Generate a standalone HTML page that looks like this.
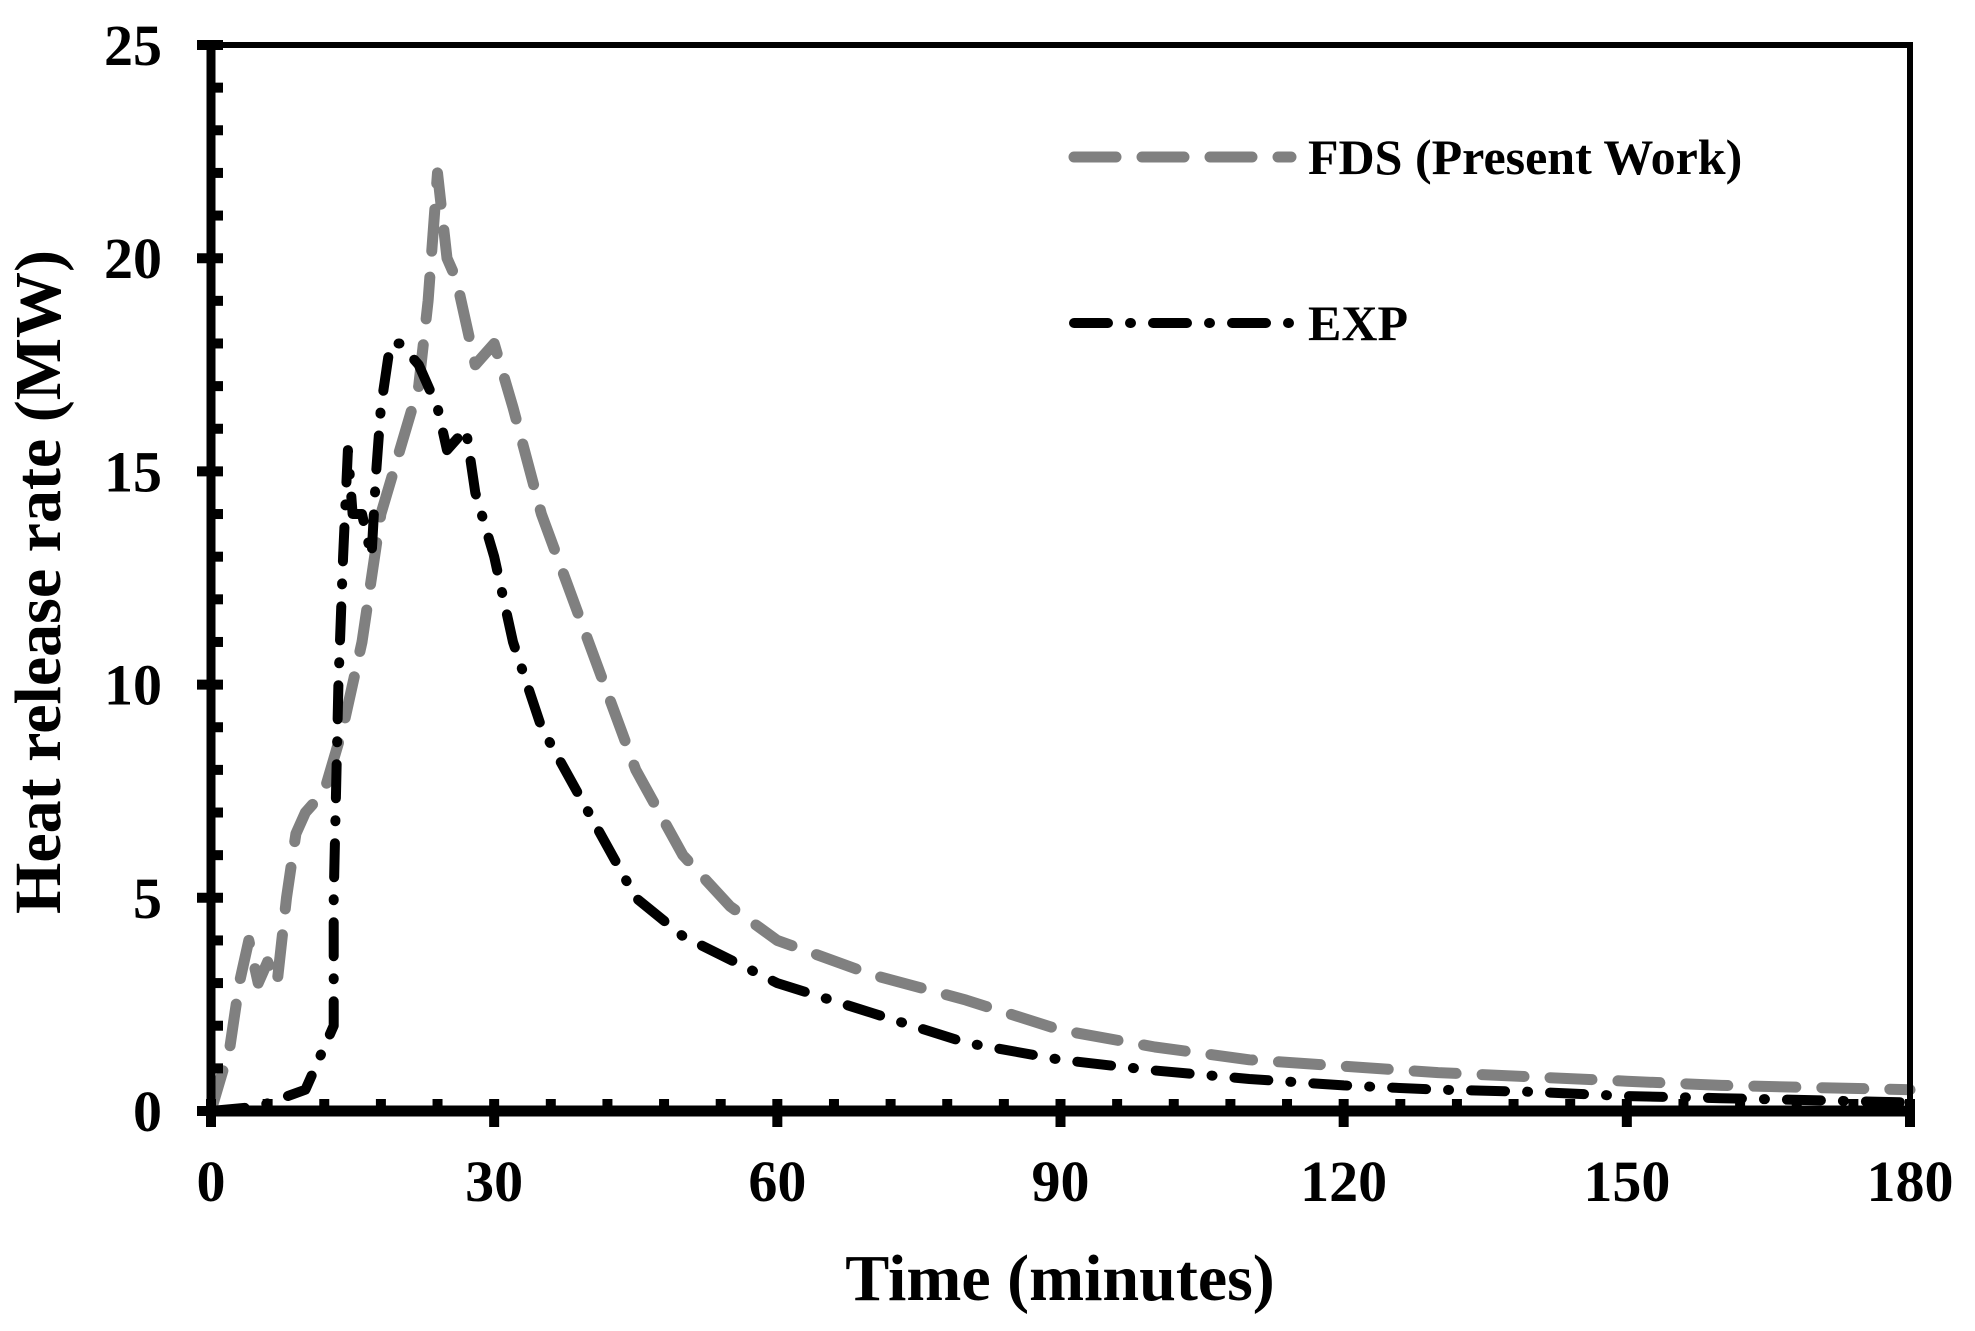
<!DOCTYPE html>
<html><head><meta charset="utf-8"><style>
html,body{margin:0;padding:0;background:#fff;}
svg{display:block;}
text{font-family:"Liberation Serif",serif;font-weight:bold;fill:#000;}
</style></head><body>
<svg id="c" width="1975" height="1331" viewBox="0 0 1975 1331" xmlns="http://www.w3.org/2000/svg">
<g id="g"></g>
<line x1="1074" y1="157" x2="1291" y2="157" stroke="#808080" stroke-width="11" stroke-dasharray="42,26" stroke-linecap="round"/>
<text x="1308" y="174" font-size="50">FDS (Present Work)</text>
<line x1="1074" y1="323" x2="1291" y2="323" stroke="#000" stroke-width="10" stroke-dasharray="34,22,1,22" stroke-linecap="round"/>
<text x="1308" y="340" font-size="50">EXP</text>
<text transform="translate(60,582) rotate(-90)" text-anchor="middle" font-size="66">Heat release rate (MW)</text>
<text x="1060" y="1300" text-anchor="middle" font-size="66">Time (minutes)</text>
</svg>
<script>
var L=211,R=1910,T=45,B=1111;
function X(t){return L+(R-L)*t/180}
function Y(v){return B-(B-T)*v/25}
var g=document.getElementById('g'),s="";
var fds=[[0,0],[2,1.5],[3,3],[4,4],[5,3],[6,3.5],[7,3],[8,5],[9,6.5],[10,7],[12,7.5],[14,9],[16,11],[18,14],[20,15.5],[22,17],[23,19],[24,22],[25,20],[26,19.5],[28,17.5],[30,18],[32,16.5],[35,14],[40,11],[45,8],[50,6],[55,4.8],[60,4],[70,3.2],[80,2.6],[90,1.9],[100,1.5],[110,1.2],[120,1.05],[130,0.9],[140,0.8],[150,0.7],[160,0.6],[180,0.5]];
var exp=[[0,0],[5,0.1],[10,0.5],[12,1.5],[13,2],[13,5],[13.5,10],[14,13],[14.5,15.5],[15,14],[16,14],[17,13],[17.5,15],[18,16.5],[19,18],[20,18],[22,17.5],[24,16.5],[25,15.5],[27,16],[28,14.5],[30,13],[32,11],[35,9],[40,7],[45,5],[50,4.1],[60,3],[70,2.3],[80,1.6],[90,1.2],[100,0.95],[110,0.75],[120,0.6],[130,0.5],[140,0.45],[150,0.35],[160,0.3],[170,0.25],[180,0.2]];
function path(d){return d.map(function(p,i){return (i?"L":"M")+X(p[0]).toFixed(1)+","+Y(p[1]).toFixed(1)}).join("")}
s+='<path d="'+path(fds)+'" fill="none" stroke="#808080" stroke-width="11" stroke-dasharray="42,26" stroke-linecap="round" stroke-linejoin="round"/>';
s+='<path d="'+path(exp)+'" fill="none" stroke="#000" stroke-width="10" stroke-dasharray="34,22,1,22" stroke-linecap="round" stroke-linejoin="round"/>';
s+='<rect x="'+L+'" y="'+T+'" width="'+(R-L)+'" height="'+(B-T)+'" fill="none" stroke="#000" stroke-width="6"/>';
s+='<line x1="'+L+'" y1="'+T+'" x2="'+L+'" y2="'+B+'" stroke="#000" stroke-width="9"/>';
s+='<line x1="'+L+'" y1="'+B+'" x2="'+R+'" y2="'+B+'" stroke="#000" stroke-width="11"/>';
for(var v=0;v<=25;v++){var y=Y(v);if(v%5==0){s+='<line x1="'+(L-14)+'" y1="'+y+'" x2="'+(L+12)+'" y2="'+y+'" stroke="#000" stroke-width="10"/>';s+='<text x="162" y="'+(y+20)+'" text-anchor="end" font-size="58">'+v+'</text>';}else s+='<line x1="'+L+'" y1="'+y+'" x2="'+(L+12)+'" y2="'+y+'" stroke="#000" stroke-width="10"/>';}
for(var t=0;t<=180;t+=6){var x=X(t);if(t%30==0){s+='<line x1="'+x+'" y1="'+(B-12)+'" x2="'+x+'" y2="'+(B+16)+'" stroke="#000" stroke-width="10"/>';s+='<text x="'+x+'" y="'+(B+90)+'" text-anchor="middle" font-size="58">'+t+'</text>';}else s+='<line x1="'+x+'" y1="'+(B-12)+'" x2="'+x+'" y2="'+B+'" stroke="#000" stroke-width="10"/>';}
g.innerHTML=s;
</script>
</body></html>
